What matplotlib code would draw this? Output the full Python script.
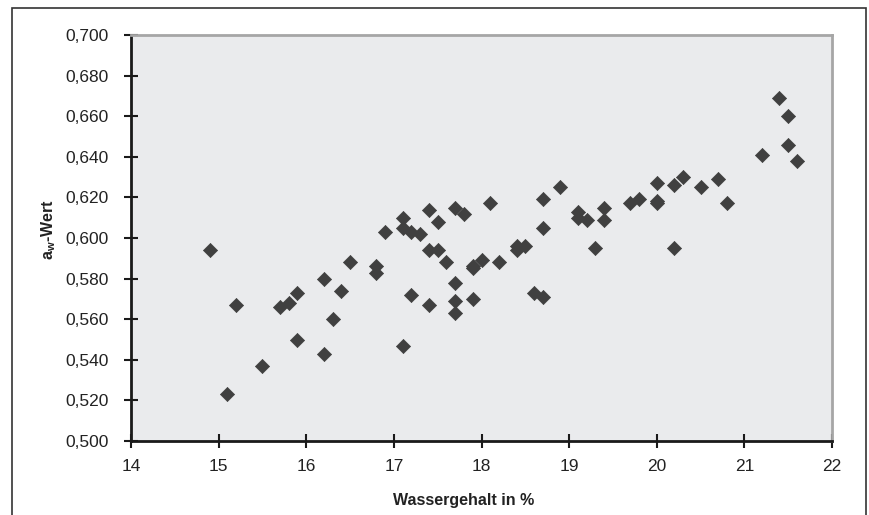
import matplotlib
matplotlib.use("Agg")
import matplotlib.pyplot as plt
from matplotlib.ticker import FuncFormatter, MultipleLocator
from matplotlib.patches import Rectangle

# Wassergehalt in % vs. aw-Wert
wassergehalt = [14.9, 15.1, 15.2, 15.5, 15.7, 15.8, 15.9, 15.9, 16.2, 16.2,
                16.3, 16.4, 16.5, 16.8, 16.8, 16.9, 17.1, 17.1, 17.1, 17.2,
                17.2, 17.3, 17.4, 17.4, 17.4, 17.5, 17.5, 17.6, 17.7, 17.7,
                17.7, 17.7, 17.8, 17.9, 17.9, 17.9, 18.0, 18.1, 18.2, 18.4,
                18.4, 18.5, 18.6, 18.7, 18.7, 18.7, 18.9, 19.1, 19.1, 19.2,
                19.3, 19.4, 19.4, 19.7, 19.8, 20.0, 20.0, 20.0, 20.2, 20.2,
                20.3, 20.5, 20.7, 20.8, 21.2, 21.4, 21.5, 21.5, 21.6]
aw_wert = [0.594, 0.523, 0.567, 0.537, 0.566, 0.568, 0.573, 0.550, 0.580, 0.543,
           0.560, 0.574, 0.588, 0.586, 0.583, 0.603, 0.610, 0.605, 0.547, 0.603,
           0.572, 0.602, 0.614, 0.594, 0.567, 0.608, 0.594, 0.588, 0.615, 0.578,
           0.569, 0.563, 0.612, 0.585, 0.586, 0.570, 0.589, 0.617, 0.588, 0.594,
           0.596, 0.596, 0.573, 0.619, 0.605, 0.571, 0.625, 0.613, 0.610, 0.609,
           0.595, 0.615, 0.609, 0.617, 0.619, 0.627, 0.618, 0.617, 0.626, 0.595,
           0.630, 0.625, 0.629, 0.617, 0.641, 0.669, 0.660, 0.646, 0.638]

plt.rcParams['font.family'] = ['Liberation Sans Narrow', 'Liberation Sans', 'DejaVu Sans']

W, H = 869, 515
fig = plt.figure(figsize=(W / 100, H / 100), dpi=100)
fig.patch.set_facecolor('white')

# plot area in pixels: left 131, right 832, top 35, bottom 441
ax = fig.add_axes([131 / W, 1 - 441 / H, (832 - 131) / W, (441 - 35) / H])
ax.set_facecolor('#eaebed')

ax.scatter(wassergehalt, aw_wert, marker='D', s=52, color='#404040',
           edgecolors='#404040', linewidths=0.5, zorder=3)

ax.set_xlim(14, 22)
ax.set_ylim(0.5, 0.7)
ax.xaxis.set_major_locator(MultipleLocator(1))
ax.yaxis.set_major_locator(MultipleLocator(0.02))
ax.yaxis.set_major_formatter(FuncFormatter(lambda v, p: ('%.3f' % v).replace('.', ',')))

for side in ['left', 'bottom']:
    ax.spines[side].set_color('#1a1a1a')
    ax.spines[side].set_linewidth(2)
for side in ['top', 'right']:
    ax.spines[side].set_color('#a6a6a6')
    ax.spines[side].set_linewidth(2)

ax.tick_params(axis='both', direction='inout', length=10, width=1.5,
               color='#1a1a1a', labelsize=12.5, labelcolor='#222222')
ax.tick_params(axis='x', pad=8)
ax.tick_params(axis='y', pad=11)

ax.set_xlabel('Wassergehalt in %', fontsize=11.5, fontweight='bold',
              color='#222222')
ax.xaxis.set_label_coords(0.475, -0.128)
ax.set_ylabel('a$_\\mathregular{w}$-Wert', fontsize=11.5, fontweight='bold',
              color='#222222')
ax.yaxis.set_label_coords(-0.104, 0.52)

# outer frame of the chart
fig.patches.append(Rectangle((12 / W, -0.05), (866 - 12) / W, 1.05 - 8 / H,
                             transform=fig.transFigure, fill=False,
                             edgecolor='#333333', linewidth=1.2))

fig.savefig('out.png', dpi=100)
